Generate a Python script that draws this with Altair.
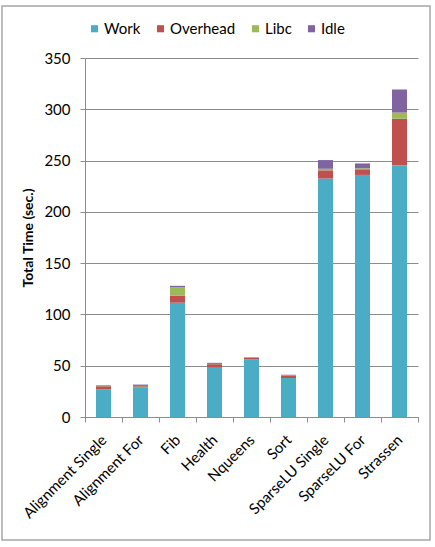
import altair as alt
import pandas as pd

categories = ["Alignment Single", "Alignment For", "Fib", "Health", "Nqueens",
              "Sort", "SparseLU Single", "SparseLU For", "Strassen"]
series = ["Work", "Overhead", "Libc", "Idle"]
colors = ["#4BACC6", "#C0504D", "#9BBB59", "#8064A2"]

work = [27, 29, 111.4, 48, 56, 38, 232.5, 236, 245.3]
overhead = [3, 1, 6.8, 3.5, 1.5, 2.5, 8, 5.5, 45.5]
libc = [0.3, 0.3, 8.2, 0.3, 0.3, 0.2, 1.5, 1, 6]
idle = [0.6, 1.3, 1.5, 1.0, 0.5, 0.5, 8.5, 4.7, 22.5]

rows = []
for i, c in enumerate(categories):
    for s, vals in zip(series, [work, overhead, libc, idle]):
        rows.append({"Benchmark": c, "Series": s, "Value": vals[i],
                     "Order": series.index(s)})
df = pd.DataFrame(rows)

FONT = "Lato"
GRID = "#8C8C8C"

bars = alt.Chart(df).mark_bar(size=15).encode(
    x=alt.X("Benchmark:N", sort=categories, title=None,
            scale=alt.Scale(paddingInner=0, paddingOuter=0),
            axis=alt.Axis(labelAngle=-45, labelAlign="right", labelBaseline="middle",
                          tickBand="extent", tickSize=5, tickColor=GRID,
                          domainColor=GRID, labelFont=FONT, labelFontSize=15,
                          labelColor="#000000", labelPadding=15, grid=False)),
    y=alt.Y("Value:Q", stack="zero", title="Total Time (sec.)",
            scale=alt.Scale(domain=[0, 350], nice=False),
            axis=alt.Axis(values=[0, 50, 100, 150, 200, 250, 300, 350],
                          tickSize=5, tickColor=GRID, domainColor=GRID,
                          gridColor=GRID, labelFont=FONT, labelFontSize=15,
                          labelColor="#000000", labelPadding=10,
                          titleFont=FONT, titleFontSize=14, titleFontWeight="bold",
                          titleColor="#000000", titleX=-57, titleY=179.5,
                          titleAngle=-90, titleAlign="center", titleBaseline="middle")),
    color=alt.Color("Series:N", sort=series,
                    scale=alt.Scale(domain=series, range=colors),
                    legend=alt.Legend(title=None, orient="none", direction="horizontal",
                                      legendX=2, legendY=-37, symbolType="square",
                                      symbolSize=50, symbolStrokeWidth=0,
                                      labelFont=FONT, labelFontSize=15,
                                      labelColor="#000000", columnPadding=12,
                                      labelOffset=2)),
    order=alt.Order("Order:Q", sort="ascending"),
)

border = alt.Chart(pd.DataFrame({"a": [0]})).mark_rect(
    fill=None, stroke="#A6A6A6", strokeWidth=1.5, clip=False
).encode(x=alt.value(-83), x2=alt.value(345), y=alt.value(-52), y2=alt.value(482))

chart = alt.layer(bars, border).properties(
    width=333, height=359,
    autosize=alt.AutoSizeParams(type="none"),
    padding={"left": 85, "top": 58, "right": 17, "bottom": 130},
    background="white",
).configure_view(stroke=None)

chart.save("out.html", embed_options={"renderer": "svg", "actions": False})
